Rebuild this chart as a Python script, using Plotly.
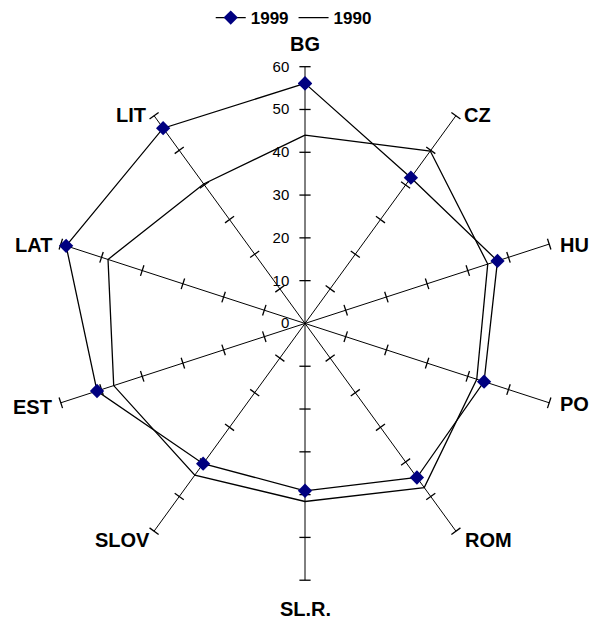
import math
import plotly.graph_objects as go

categories = ["BG", "CZ", "HU", "PO", "ROM", "SL.R.", "SLOV", "EST", "LAT", "LIT"]
values_1999 = [56.1, 42.1, 47.3, 44.0, 44.5, 39.1, 40.5, 51.1, 58.7, 56.4]
values_1990 = [44.0, 49.8, 44.9, 42.2, 47.4, 41.6, 43.8, 47.0, 48.4, 40.3]
radial_ticks = [0, 10, 20, 30, 40, 50, 60]

FONT = "Arial, Liberation Sans, sans-serif"
W, H = 591, 623
CX, CY, R = 305, 322, 258  # polar centre and radius, pixels

fig = go.Figure()

# tick marks on every spoke (perpendicular to the spoke)
n = len(categories)
tick_theta, tick_r, tick_angle = [], [], []
for i, c in enumerate(categories):
    for t in radial_ticks[1:]:
        tick_theta.append(c)
        tick_r.append(t)
        tick_angle.append(360.0 * i / n)
fig.add_trace(go.Scatterpolar(
    r=tick_r, theta=tick_theta, mode="markers",
    marker=dict(symbol="line-ew", size=8, angle=tick_angle,
                line=dict(color="black", width=1.3)),
    showlegend=False, hoverinfo="skip"))

fig.add_trace(go.Scatterpolar(
    r=values_1999 + values_1999[:1], theta=categories + categories[:1],
    mode="lines+markers", name="1999",
    line=dict(color="black", width=1.3),
    marker=dict(symbol="diamond", size=11, color="#000080"),
    hoverinfo="skip"))

fig.add_trace(go.Scatterpolar(
    r=values_1990 + values_1990[:1], theta=categories + categories[:1],
    mode="lines", name="1990",
    line=dict(color="black", width=1.3),
    hoverinfo="skip"))

# category labels placed just outside the end of each spoke
label_style = [
    ("center", "middle", 0, -23),   # BG
    ("left", "middle", 6, -1),      # CZ
    ("left", "middle", 9, 1),       # HU
    ("left", "middle", 9, 1),       # PO
    ("left", "middle", 7, 9),       # ROM
    ("center", "middle", 0, 29),    # SL.R.
    ("right", "middle", -2, 9),     # SLOV
    ("right", "middle", -7, 4),     # EST
    ("right", "middle", -7, 1),     # LAT
    ("right", "middle", -6, -1),    # LIT
]
annotations = []
for i, c in enumerate(categories):
    a = math.radians(360.0 * i / n)
    ex = CX + R * math.sin(a)
    ey = CY - R * math.cos(a)
    xa, ya, dx, dy = label_style[i]
    annotations.append(dict(
        text=f"<b>{c}</b>", xref="paper", yref="paper",
        x=(ex + dx) / W, y=1 - (ey + dy) / H,
        xanchor=xa, yanchor=ya, showarrow=False, borderpad=0,
        font=dict(family=FONT, size=20, color="black")))

fig.update_layout(
    width=W, height=H,
    margin=dict(l=0, r=0, t=0, b=0),
    paper_bgcolor="white", plot_bgcolor="white",
    font=dict(family=FONT, color="black"),
    showlegend=True,
    annotations=annotations,
    legend=dict(orientation="h", x=0.497, xanchor="center", y=1.005, yanchor="top",
                font=dict(family=FONT, size=17, color="black", weight="bold"),
                bgcolor="rgba(0,0,0,0)", traceorder="normal"),
    polar=dict(
        domain=dict(x=[(CX - R) / W, (CX + R) / W],
                    y=[1 - (CY + R) / H, 1 - (CY - R) / H]),
        bgcolor="white",
        angularaxis=dict(direction="clockwise", rotation=90,
                         showline=False, showgrid=True,
                         gridcolor="black", gridwidth=1.3,
                         ticks="", showticklabels=False),
        radialaxis=dict(range=[0, 60], tickvals=radial_ticks, angle=90,
                        side="counterclockwise",
                        showline=False, showgrid=False,
                        ticks="outside", ticklen=10, tickcolor="rgba(0,0,0,0)",
                        tickangle=90,
                        tickfont=dict(family=FONT, size=15, color="black")),
    ),
)

fig.write_html("out.html", config={"displayModeBar": False},
               post_script="document.body.style.margin='0px';")
